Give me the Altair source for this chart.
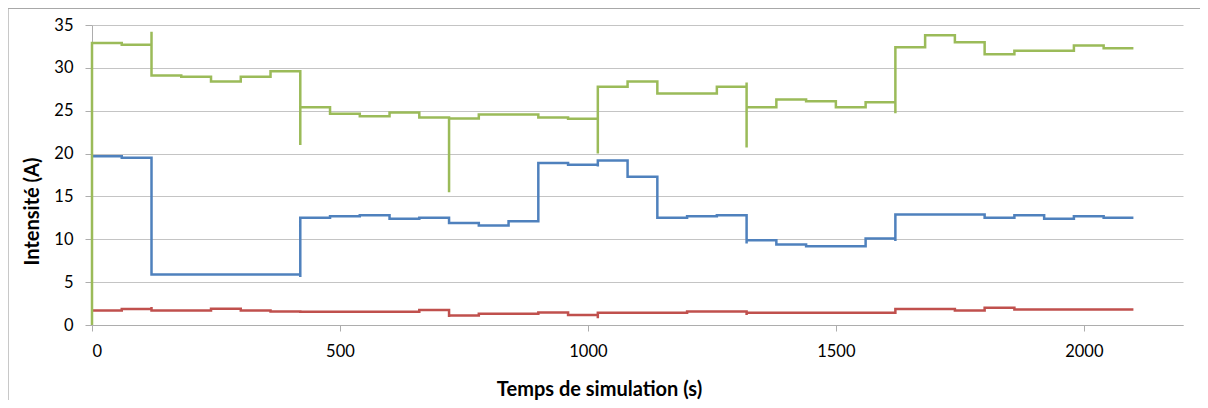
import altair as alt
import pandas as pd

# Step length of the simulation (s) and number of steps
STEP = 60
N_STEPS = 35

# Level of each series during each 60 s step (A)
blue_levels = [19.7, 19.5, 5.9, 5.9, 5.9, 5.9, 5.9, 12.5, 12.7, 12.8, 12.4, 12.5,
               11.9, 11.6, 12.1, 18.9, 18.7, 19.2, 17.3, 12.5, 12.7, 12.8,
               9.9, 9.4, 9.2, 9.2, 10.1, 12.9, 12.9, 12.9, 12.5, 12.8, 12.4, 12.7, 12.5]
red_levels = [1.7, 1.86, 1.7, 1.7, 1.9, 1.7, 1.58, 1.55, 1.55, 1.55, 1.55, 1.74,
              1.12, 1.31, 1.31, 1.47, 1.16, 1.43, 1.43, 1.43, 1.58, 1.58,
              1.43, 1.43, 1.43, 1.43, 1.43, 1.86, 1.86, 1.7, 2.0, 1.82, 1.82, 1.82, 1.82]
green_levels = [32.9, 32.7, 29.1, 28.95, 28.4, 28.95, 29.6, 25.4, 24.65, 24.35, 24.8, 24.2,
                24.1, 24.55, 24.55, 24.2, 24.07, 27.8, 28.4, 27.0, 27.0, 27.8,
                25.4, 26.3, 26.1, 25.4, 26.0, 32.4, 33.8, 33.0, 31.6, 32.0, 32.0, 32.6, 32.3]

# Transient values reached at a step boundary (key = boundary time in s)
blue_spikes = {420: [5.6], 1020: [18.5], 1320: [9.5], 1620: [9.8]}
red_spikes = {120: [2.09], 420: [1.4], 720: [0.93], 1020: [0.8], 1320: [1.16]}
green_spikes = {120: [34.2], 420: [21.0], 720: [15.5], 1020: [20.0],
                1320: [28.3, 20.7], 1620: [24.7]}

# Value at t = 0 before the first step
green_start = 0.0

series_names = ["Bleu", "Rouge", "Vert"]
series_colors = ["#4F81BD", "#C0504D", "#9BBB59"]

x_ticks = [0, 500, 1000, 1500, 2000]
y_ticks = [0, 5, 10, 15, 20, 25, 30, 35]


def build(name, levels, spikes, start=None):
    rows = []
    k = 0
    if start is not None:
        rows.append({"serie": name, "t": 0, "I": start, "k": k}); k += 1
    for i, v in enumerate(levels):
        t0 = i * STEP
        t1 = (i + 1) * STEP
        rows.append({"serie": name, "t": t0, "I": v, "k": k}); k += 1
        rows.append({"serie": name, "t": t1, "I": v, "k": k}); k += 1
        for s in spikes.get(t1, []):
            rows.append({"serie": name, "t": t1, "I": s, "k": k}); k += 1
    return rows


rows = (build("Bleu", blue_levels, blue_spikes)
        + build("Rouge", red_levels, red_spikes)
        + build("Vert", green_levels, green_spikes, green_start))
df = pd.DataFrame(rows)

W, H = 1091, 300
PL, PT, PR, PB = 84, 17, 17, 75

x_scale = alt.Scale(domain=[0, 2200], nice=False)
y_scale = alt.Scale(domain=[0, 35], nice=False)

x_axis = alt.Axis(values=x_ticks, format="d", grid=False, title="Temps de simulation (s)",
                  tickSize=6, labelPadding=12, titleX=507, titleY=64,
                  titleBaseline="middle", titleAlign="center",
                  titleFontSize=20, titleFontWeight="bold", titleFont="Lato")
y_axis = alt.Axis(values=y_ticks, format="d", grid=True, title="Intensité (A)",
                  tickSize=7, labelPadding=12, titleX=-60, titleY=186, titleAngle=-90,
                  titleBaseline="middle", titleAlign="center",
                  titleFontSize=20, titleFontWeight="bold", titleFont="Lato")

layers = []
for name, color in zip(series_names, series_colors):
    layers.append(
        alt.Chart(df).transform_filter(alt.datum.serie == name)
        .mark_line(color=color, strokeWidth=2.5, strokeJoin="miter", strokeCap="butt")
        .encode(
            x=alt.X("t:Q", scale=x_scale, axis=x_axis),
            y=alt.Y("I:Q", scale=y_scale, axis=y_axis),
            order="k:Q",
        )
    )

# Outer frame of the chart (decorative)
frame_left = alt.Chart(df).mark_rule(color="#C8C8C8", strokeWidth=1).encode(
    x=alt.value(-PL + 0.5), y=alt.value(-PT + 0.5), y2=alt.value(H + PB))
frame_top = alt.Chart(df).mark_rule(color="#A8A8A8", strokeWidth=1).encode(
    x=alt.value(-PL + 0.5), x2=alt.value(W + PR), y=alt.value(-PT + 0.5))

chart = alt.layer(*layers, frame_left, frame_top).properties(
    width=W, height=H,
    autosize=alt.AutoSizeParams(type="none"),
    padding={"left": PL, "top": PT, "right": PR, "bottom": PB},
).configure_view(stroke=None).configure_axis(
    labelFont="Lato", titleFont="Lato", labelFontSize=16.5, titleFontSize=20,
    labelColor="#000000", titleColor="#000000", titleFontWeight="bold",
    domainColor="#ADADAD", tickColor="#ADADAD", gridColor="#C4C4C4",
    domainWidth=1, tickWidth=1, gridWidth=1,
)

chart.save("out.html", embed_options={"renderer": "svg", "actions": False})
